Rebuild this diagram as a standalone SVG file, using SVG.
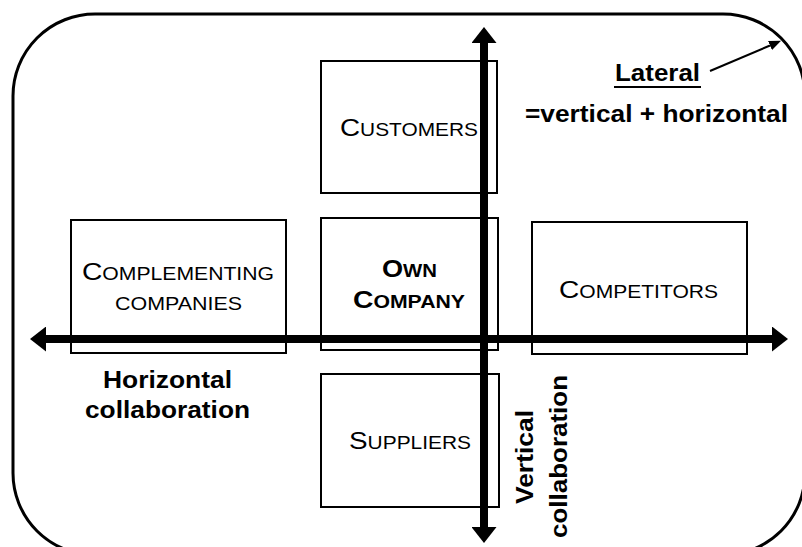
<svg xmlns="http://www.w3.org/2000/svg" width="802" height="547" viewBox="0 0 802 547">
<style>
.box{fill:#fff;stroke:#000;stroke-width:2}
.lbl{font-family:"Liberation Sans",Arial,sans-serif;fill:#000}
.big{font-size:24px}
.sm{font-size:18px}
.b{font-weight:bold}
.bl{font-family:"Liberation Sans",Arial,sans-serif;font-weight:bold;font-size:24px;fill:#000}
.axis{stroke:#000;stroke-width:8;fill:none}
</style>
<defs>
<marker id="ah" markerUnits="userSpaceOnUse" markerWidth="16" markerHeight="25" refX="0" refY="12.5" orient="auto-start-reverse" viewBox="0 0 16 25">
<path d="M0,0 L16,12.5 L0,25 Z" fill="#000"/>
</marker>
<marker id="sh" markerUnits="userSpaceOnUse" markerWidth="12" markerHeight="10" refX="0" refY="5" orient="auto" viewBox="0 0 12 10">
<path d="M0,0 L12,5 L0,10 Z" fill="#000"/>
</marker>
</defs>
<rect id="frame" x="13" y="14" width="792" height="541" rx="82" ry="82" fill="#fff" stroke="#000" stroke-width="3"/>
<g id="customers">
<rect class="box" x="321" y="61" width="176" height="132"/>
<text class="lbl" x="340" y="136" textLength="138" lengthAdjust="spacingAndGlyphs"><tspan class="big">C</tspan><tspan class="sm">USTOMERS</tspan></text>
</g>
<g id="complementing">
<rect class="box" x="71" y="220" width="215" height="133"/>
<text class="lbl" x="82" y="280" textLength="192" lengthAdjust="spacingAndGlyphs"><tspan class="big">C</tspan><tspan class="sm">OMPLEMENTING</tspan></text>
<text class="lbl sm" x="115" y="310" textLength="127" lengthAdjust="spacingAndGlyphs">COMPANIES</text>
</g>
<g id="own-company">
<rect class="box" x="321" y="218" width="177" height="132"/>
<text class="lbl b" x="382" y="277" textLength="55" lengthAdjust="spacingAndGlyphs"><tspan class="big">O</tspan><tspan class="sm">WN</tspan></text>
<text class="lbl b" x="353" y="308" textLength="112" lengthAdjust="spacingAndGlyphs"><tspan class="big">C</tspan><tspan class="sm">OMPANY</tspan></text>
</g>
<g id="competitors">
<rect class="box" x="532" y="222" width="215" height="132"/>
<text class="lbl" x="559" y="298" textLength="159" lengthAdjust="spacingAndGlyphs"><tspan class="big">C</tspan><tspan class="sm">OMPETITORS</tspan></text>
</g>
<g id="suppliers">
<rect class="box" x="321" y="374" width="178" height="133"/>
<text class="lbl" x="349" y="449" textLength="122" lengthAdjust="spacingAndGlyphs"><tspan class="big">S</tspan><tspan class="sm">UPPLIERS</tspan></text>
</g>
<g id="connectors">
<path class="axis" d="M484,43 L484,527" marker-start="url(#ah)" marker-end="url(#ah)"/>
<path class="axis" d="M46,339 L772,339" marker-start="url(#ah)" marker-end="url(#ah)"/>
<path d="M710,71 L770,45.5" stroke="#000" stroke-width="2" fill="none" marker-end="url(#sh)"/>
</g>
<g id="labels">
<text class="bl" x="615" y="81" textLength="85" lengthAdjust="spacingAndGlyphs">Lateral</text>
<line x1="614" y1="87" x2="701" y2="87" stroke="#000" stroke-width="2"/>
<text class="bl" x="525" y="122" textLength="263" lengthAdjust="spacingAndGlyphs">=vertical + horizontal</text>
<text class="bl" x="103" y="388" textLength="129" lengthAdjust="spacingAndGlyphs">Horizontal</text>
<text class="bl" x="85" y="418" textLength="165" lengthAdjust="spacingAndGlyphs">collaboration</text>
<text class="bl" transform="translate(533,504) rotate(-90)" x="0" y="0" textLength="94" lengthAdjust="spacingAndGlyphs">Vertical</text>
<text class="bl" transform="translate(567,538) rotate(-90)" x="0" y="0" textLength="163" lengthAdjust="spacingAndGlyphs">collaboration</text>
</g>
</svg>
